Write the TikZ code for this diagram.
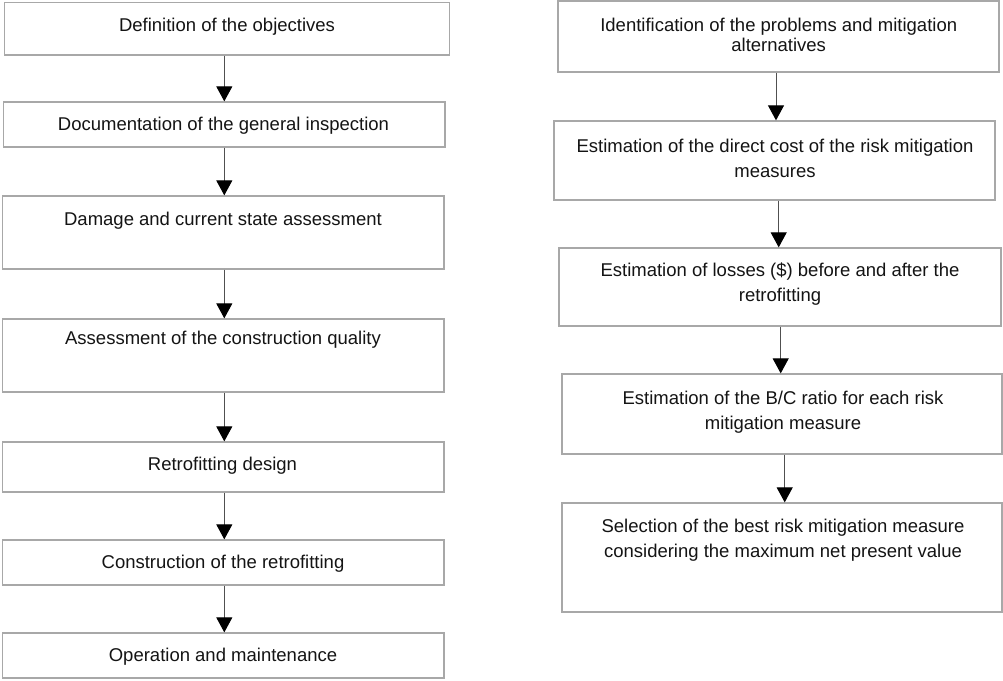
\documentclass[tikz,border=0pt]{standalone}
\usepackage{fontspec}
\setmainfont{Liberation Sans}
\usetikzlibrary{arrows.meta}
\definecolor{boxgray}{HTML}{A8A8A8}
\definecolor{shaft}{HTML}{505050}
\tikzset{
  box/.style={draw=boxgray, line width=1.3pt, fill=white, inner sep=0pt, rectangle},
  txt/.style={inner sep=0pt, align=center, text=black!92, yshift=-2pt, font=\fontsize{18.5}{25}\selectfont},
  txtnarrow/.style={txt, font=\fontsize{18.5}{20}\selectfont},
  arr/.style={draw=shaft, line width=1pt, -{Triangle[width=16pt,length=15pt,fill=black,color=black]}, shorten >=0pt}
}
\begin{document}
\begin{tikzpicture}[x=1pt,y=-1pt]
\useasboundingbox (0,0) rectangle (1003,680);
% left column boxes
\node[box, minimum width=444.8pt, minimum height=52.3pt] (L1) at (227.1,28.85) {};
\node[box, minimum width=441.7pt, minimum height=45pt] (L2) at (224.15,124.5) {};
\node[box, minimum width=441.3pt, minimum height=73pt] (L3) at (223.35,232.5) {};
\node[box, minimum width=441.3pt, minimum height=73pt] (L4) at (223.35,355.5) {};
\node[box, minimum width=441.5pt, minimum height=50pt] (L5) at (223.25,467) {};
\node[box, minimum width=441.5pt, minimum height=45pt] (L6) at (223.25,562.5) {};
\node[box, minimum width=441.5pt, minimum height=45pt] (L7) at (223.25,655.5) {};
% left texts
\node[txt] (tL1) at (227,25) {Definition of the objectives};
\node[txt] (tL2) at (223.5,124) {Documentation of the general inspection};
\node[txt] (tL3) at (223,219) {Damage and current state assessment};
\node[txt] (tL4) at (223,338) {Assessment of the construction quality};
\node[txt] (tL5) at (222.5,464) {Retrofitting design};
\node[txt] (tL6) at (223,562) {Construction of the retrofitting};
\node[txt] (tL7) at (223,655) {Operation and maintenance};
% right column boxes
\node[box, minimum width=441pt, minimum height=71pt] (R1) at (778.5,36.5) {};
\node[box, minimum width=441pt, minimum height=79pt] (R2) at (774.5,160.5) {};
\node[box, minimum width=442pt, minimum height=78pt] (R3) at (780,287) {};
\node[box, minimum width=440pt, minimum height=80pt] (R4) at (782,414) {};
\node[box, minimum width=440pt, minimum height=109pt] (R5) at (782,557.5) {};
% right texts
\node[txtnarrow] (tR1) at (778.7,33) {Identification of the problems and mitigation\\alternatives};
\node[txt] (tR2) at (775,156.2) {Estimation of the direct cost of the risk mitigation\\measures};
\node[txt] (tR3) at (780,282.5) {Estimation of losses (\$) before and after the\\retrofitting};
\node[txt] (tR4) at (783,409.8) {Estimation of the B/C ratio for each risk\\mitigation measure};
\node[txt] (tR5) at (783,537.8) {Selection of the best risk mitigation measure\\considering the maximum net present value};
% arrow axes
\coordinate (aL) at (224.3,0);
\coordinate (aR1) at (776,0);
\coordinate (aR2) at (778.7,0);
\coordinate (aR3) at (780.7,0);
\coordinate (aR4) at (784.7,0);
% left arrows
\draw[arr] (L1.south -| aL) -- (L2.north -| aL);
\draw[arr] (L2.south -| aL) -- (L3.north -| aL);
\draw[arr] (L3.south -| aL) -- (L4.north -| aL);
\draw[arr] (L4.south -| aL) -- (L5.north -| aL);
\draw[arr] (L5.south -| aL) -- (L6.north -| aL);
\draw[arr] (L6.south -| aL) -- (L7.north -| aL);
% right arrows
\draw[arr] (R1.south -| aR1) -- (R2.north -| aR1);
\draw[arr] (R2.south -| aR2) -- (R3.north -| aR2);
\draw[arr] (R3.south -| aR3) -- (R4.north -| aR3);
\draw[arr] (R4.south -| aR4) -- (R5.north -| aR4);
\end{tikzpicture}
\end{document}
